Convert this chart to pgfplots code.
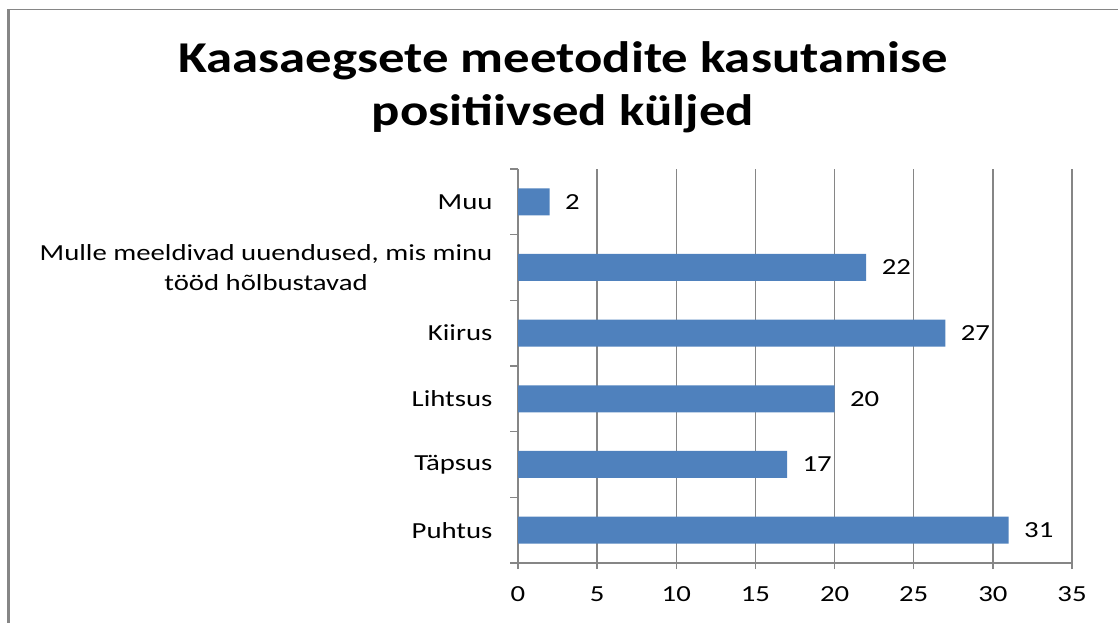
\documentclass[border=0pt]{standalone}
\usepackage{pgfplots}
\pgfplotsset{compat=1.18}
\usepackage{fontspec}
\setmainfont{Carlito}
\newfontfamily\widefont[FakeStretch=1.25]{Carlito}
\newfontfamily\titlefont[FakeStretch=1.2]{Carlito}
\definecolor{barblue}{HTML}{4F81BD}
\definecolor{axgray}{HTML}{868686}
\begin{document}
\begin{tikzpicture}[x=1pt,y=1pt]
\path[use as bounding box] (0,0) rectangle (1118,623);
\draw[axgray, line width=3pt] (8.5,0) -- (8.5,614);
\draw[axgray, line width=1.2pt] (7,613.5) -- (1118,613.5);
\node[align=center, font=\titlefont\fontsize{44}{53}\selectfont\bfseries] at (563,536) {Kaasaegsete meetodite kasutamise\\positiivsed küljed};
\begin{axis}[
  at={(518pt,60pt)}, anchor=south west,
  scale only axis, width=554pt, height=394pt,
  xbar, bar width=27pt,
  xmin=0, xmax=35, xtick={0,5,...,35},
  ymin=0.5, ymax=6.5, ytick={1,...,6},
  minor ytick={0.5,1.5,...,6.5},
  yticklabels={Puhtus,Täpsus,Lihtsus,Kiirus,{Mulle meeldivad uuendused, mis minu\\tööd hõlbustavad},Muu},
  axis x line*=bottom, axis y line*=left,
  axis line style={axgray, line width=1.4pt},
  xmajorgrids, grid style={axgray, line width=1.4pt},
  tick align=outside,
  major tick length=6pt,
  minor tick length=8pt,
  x tick style={axgray, line width=1.4pt},
  y tick style={draw=none},
  minor y tick style={draw=axgray, line width=1.4pt},
  tick label style={font=\widefont\fontsize{23}{30}\selectfont},
  xticklabel style={yshift=-14pt},
  yticklabel style={align=center, xshift=-16pt},
  nodes near coords,
  nodes near coords style={font=\widefont\fontsize{23}{30}\selectfont, anchor=west, xshift=12pt},
  /pgf/number format/assume math mode=true,
]
\addplot[fill=barblue, draw=none] coordinates {(31,1) (17,2) (20,3) (27,4) (22,5) (2,6)};
\end{axis}
\end{tikzpicture}
\end{document}
